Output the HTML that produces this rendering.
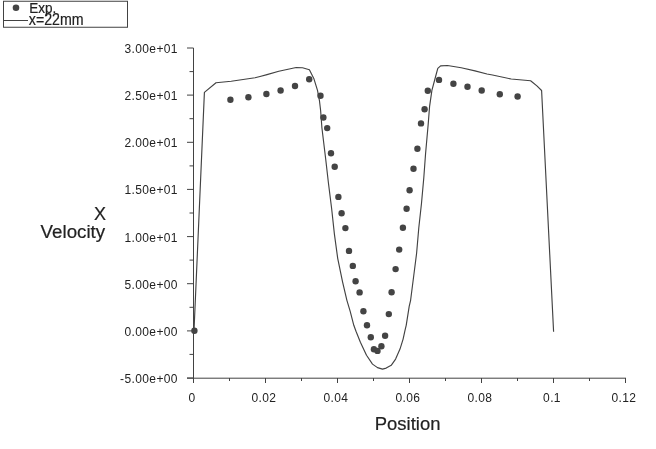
<!DOCTYPE html>
<html><head><meta charset="utf-8"><title>X Velocity vs Position</title>
<style>
html,body{margin:0;padding:0;background:#fff;}
svg{display:block;}
text{font-family:"Liberation Sans",Arial,sans-serif;fill:#222;}
.ax,.lg{stroke:#222;stroke-width:0.2px;}
.tk{font-size:12px;letter-spacing:0.38px;}
.ax{font-size:18px;}
.lg{font-size:15px;}
</style></head><body>
<svg width="656" height="449" viewBox="0 0 656 449">
<rect width="656" height="449" fill="#fff"/>
<rect x="3.5" y="1.25" width="124" height="26" fill="none" stroke="#424242" stroke-width="1"/>
<circle cx="16" cy="7.8" r="3.3" fill="#444"/>
<line x1="4" y1="20.5" x2="28" y2="20.5" stroke="#424242" stroke-width="1"/>
<text class="lg" style="font-size:15px" x="29.3" y="13.4" textLength="27" lengthAdjust="spacingAndGlyphs">Exp.</text>
<text class="lg" style="font-size:15.6px" x="28.8" y="25.2" textLength="54.8" lengthAdjust="spacingAndGlyphs">x=22mm</text>
<g stroke="#424242" stroke-width="1" fill="none">
<line x1="193.5" y1="48" x2="193.5" y2="383"/>
<line x1="187" y1="378.2" x2="626" y2="378.2"/>
<line x1="187" y1="48.0" x2="193.5" y2="48.0"/>
<line x1="189.5" y1="71.6" x2="193.5" y2="71.6"/>
<line x1="187" y1="95.1" x2="193.5" y2="95.1"/>
<line x1="189.5" y1="118.7" x2="193.5" y2="118.7"/>
<line x1="187" y1="142.3" x2="193.5" y2="142.3"/>
<line x1="189.5" y1="165.9" x2="193.5" y2="165.9"/>
<line x1="187" y1="189.4" x2="193.5" y2="189.4"/>
<line x1="189.5" y1="213.0" x2="193.5" y2="213.0"/>
<line x1="187" y1="236.6" x2="193.5" y2="236.6"/>
<line x1="189.5" y1="260.1" x2="193.5" y2="260.1"/>
<line x1="187" y1="283.7" x2="193.5" y2="283.7"/>
<line x1="189.5" y1="307.3" x2="193.5" y2="307.3"/>
<line x1="187" y1="330.9" x2="193.5" y2="330.9"/>
<line x1="189.5" y1="354.4" x2="193.5" y2="354.4"/>
<line x1="187" y1="378.0" x2="193.5" y2="378.0"/>
<line x1="193.5" y1="378" x2="193.5" y2="383"/>
<line x1="229.5" y1="378" x2="229.5" y2="381"/>
<line x1="265.5" y1="378" x2="265.5" y2="383"/>
<line x1="301.5" y1="378" x2="301.5" y2="381"/>
<line x1="337.5" y1="378" x2="337.5" y2="383"/>
<line x1="373.5" y1="378" x2="373.5" y2="381"/>
<line x1="409.5" y1="378" x2="409.5" y2="383"/>
<line x1="445.5" y1="378" x2="445.5" y2="381"/>
<line x1="481.5" y1="378" x2="481.5" y2="383"/>
<line x1="517.5" y1="378" x2="517.5" y2="381"/>
<line x1="553.5" y1="378" x2="553.5" y2="383"/>
<line x1="589.5" y1="378" x2="589.5" y2="381"/>
<line x1="625.5" y1="378" x2="625.5" y2="383"/>
<polyline stroke-width="1.15" stroke-linejoin="round" points="194.0,330.8 204.4,92.4 216.0,82.8 231.2,81.2 255.0,77.8 260.0,76.5 267.0,74.6 278.8,71.3 296.2,67.5 302.5,67.8 309.4,69.7 313.8,78.4 317.5,90.3 319.4,100.3 320.6,110.3 321.9,127.8 325.6,158.3 328.4,182.8 331.6,208.3 334.4,234.1 337.7,258.3 342.5,281.6 346.9,300.3 350.2,311.3 353.8,325.3 356.0,331.3 360.4,342.3 366.5,355.3 372.5,364.1 377.5,367.6 382.5,369.1 386.2,368.1 391.2,365.3 395.6,359.1 400.0,349.1 403.1,339.1 405.0,330.3 406.2,325.3 409.2,306.3 410.6,300.3 413.8,275.3 416.6,253.3 418.8,227.8 421.5,203.3 423.8,177.8 425.6,153.3 428.1,125.3 429.6,106.3 431.9,90.3 435.6,76.5 437.8,68.4 440.6,65.9 447.5,65.5 461.2,67.8 475.0,70.9 487.0,74.0 492.5,75.0 511.2,79.0 530.6,80.7 536.9,85.9 541.6,90.5 553.6,331.8"/>
</g>
<g fill="#444">
<circle cx="194.4" cy="330.7" r="3.2"/>
<circle cx="230.4" cy="99.7" r="3.2"/>
<circle cx="248.4" cy="97.3" r="3.2"/>
<circle cx="266.4" cy="94.0" r="3.2"/>
<circle cx="280.6" cy="90.5" r="3.2"/>
<circle cx="295.0" cy="86.0" r="3.2"/>
<circle cx="309.2" cy="79.3" r="3.2"/>
<circle cx="320.5" cy="95.7" r="3.2"/>
<circle cx="323.4" cy="117.5" r="3.2"/>
<circle cx="327.2" cy="128.1" r="3.2"/>
<circle cx="331.0" cy="153.3" r="3.2"/>
<circle cx="334.7" cy="166.8" r="3.2"/>
<circle cx="338.4" cy="196.9" r="3.2"/>
<circle cx="341.6" cy="213.3" r="3.2"/>
<circle cx="345.4" cy="228.1" r="3.2"/>
<circle cx="349.0" cy="250.9" r="3.2"/>
<circle cx="352.8" cy="265.9" r="3.2"/>
<circle cx="355.6" cy="281.2" r="3.2"/>
<circle cx="359.6" cy="292.4" r="3.2"/>
<circle cx="363.4" cy="311.3" r="3.2"/>
<circle cx="367.0" cy="325.3" r="3.2"/>
<circle cx="370.8" cy="337.2" r="3.2"/>
<circle cx="373.9" cy="349.3" r="3.2"/>
<circle cx="377.5" cy="350.9" r="3.2"/>
<circle cx="381.4" cy="346.3" r="3.2"/>
<circle cx="385.1" cy="335.7" r="3.2"/>
<circle cx="388.8" cy="314.1" r="3.2"/>
<circle cx="391.6" cy="292.3" r="3.2"/>
<circle cx="395.6" cy="269.1" r="3.2"/>
<circle cx="399.2" cy="249.6" r="3.2"/>
<circle cx="402.9" cy="227.8" r="3.2"/>
<circle cx="406.6" cy="208.8" r="3.2"/>
<circle cx="409.6" cy="190.3" r="3.2"/>
<circle cx="413.5" cy="168.7" r="3.2"/>
<circle cx="417.4" cy="148.8" r="3.2"/>
<circle cx="421.0" cy="123.4" r="3.2"/>
<circle cx="424.6" cy="109.3" r="3.2"/>
<circle cx="427.8" cy="90.7" r="3.2"/>
<circle cx="439.0" cy="79.9" r="3.2"/>
<circle cx="453.4" cy="83.8" r="3.2"/>
<circle cx="467.5" cy="86.8" r="3.2"/>
<circle cx="481.7" cy="90.5" r="3.2"/>
<circle cx="499.8" cy="94.3" r="3.2"/>
<circle cx="517.6" cy="96.5" r="3.2"/>
</g>
<text class="tk" x="177.9" y="52.9" text-anchor="end">3.00e+01</text>
<text class="tk" x="177.9" y="100.0" text-anchor="end">2.50e+01</text>
<text class="tk" x="177.9" y="147.2" text-anchor="end">2.00e+01</text>
<text class="tk" x="177.9" y="194.3" text-anchor="end">1.50e+01</text>
<text class="tk" x="177.9" y="241.5" text-anchor="end">1.00e+01</text>
<text class="tk" x="177.9" y="288.6" text-anchor="end">5.00e+00</text>
<text class="tk" x="177.9" y="335.8" text-anchor="end">0.00e+00</text>
<text class="tk" x="177.9" y="382.9" text-anchor="end">-5.00e+00</text>
<text class="tk" x="192.0" y="401.8" text-anchor="middle">0</text>
<text class="tk" x="264.0" y="401.8" text-anchor="middle">0.02</text>
<text class="tk" x="336.0" y="401.8" text-anchor="middle">0.04</text>
<text class="tk" x="408.0" y="401.8" text-anchor="middle">0.06</text>
<text class="tk" x="480.0" y="401.8" text-anchor="middle">0.08</text>
<text class="tk" x="552.0" y="401.8" text-anchor="middle">0.1</text>
<text class="tk" x="624.0" y="401.8" text-anchor="middle">0.12</text>
<text class="ax" x="106" y="219.6" text-anchor="end">X</text>
<text class="ax" x="40.6" y="238" textLength="64.6" lengthAdjust="spacingAndGlyphs">Velocity</text>
<text class="ax" x="374.8" y="429.5" textLength="65.6" lengthAdjust="spacingAndGlyphs">Position</text>
</svg>
</body></html>
